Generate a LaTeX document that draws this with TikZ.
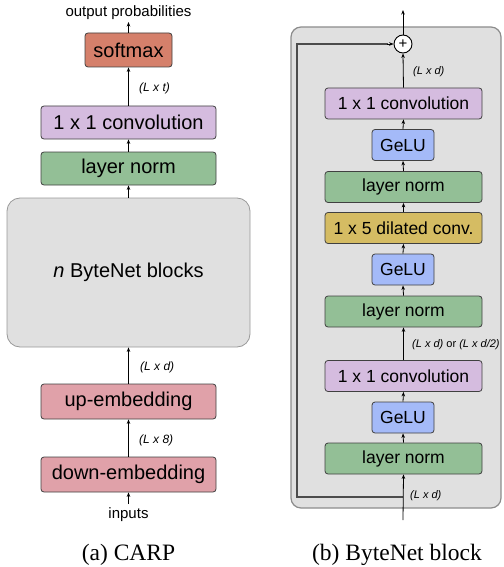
\documentclass[tikz,border=0pt]{standalone}
\usepackage{fontspec}
\setmainfont{Liberation Sans}
\newfontfamily\capfont{Liberation Serif}
\usetikzlibrary{arrows.meta}
\definecolor{salm}{HTML}{D5806B}
\definecolor{lav}{HTML}{D5BCDF}
\definecolor{grn}{HTML}{93BF96}
\definecolor{pnk}{HTML}{E0A1A9}
\definecolor{blu}{HTML}{A4BAF8}
\definecolor{mus}{HTML}{D5BC63}
\definecolor{bgg}{HTML}{E0E0E0}
\tikzset{
  blk/.style={draw=black!75, line width=0.8pt, rounded corners=3pt, minimum height=33pt, inner sep=0pt, font=\fontsize{20}{24}\selectfont},
  lbox/.style={blk, minimum width=175pt},
  rbox/.style={blk, minimum width=157pt, minimum height=31pt, font=\fontsize{17.5}{21}\selectfont},
  gbox/.style={blk, minimum width=62pt, minimum height=31pt, fill=blu, font=\fontsize{17.5}{21}\selectfont},
  arr/.style={-{Stealth[length=4.5pt,width=3.5pt]}, line width=0.8pt, black},
  lab/.style={anchor=west, inner sep=0pt, font=\fontsize{12}{14}\selectfont\itshape},
  rlab/.style={anchor=west, inner sep=0pt, font=\fontsize{11}{13}\selectfont\itshape},
  txt/.style={inner sep=0pt, font=\fontsize{15}{18}\selectfont},
  capt/.style={inner sep=0pt, font=\capfont\fontsize{23.5}{28}\selectfont}
}
\begin{document}
\begin{tikzpicture}[x=1pt,y=-1pt]
\useasboundingbox (0,0) rectangle (503,567);
% ---------- left panel ----------
\node[txt] (out) at (128.5,13) {output probabilities};
\node[lbox, minimum width=87pt, minimum height=34pt, fill=salm] (soft) at (128.5,50) {softmax};
\node[lbox, fill=lav] (conv) at (128.5,122.5) {1 x 1 convolution};
\node[lbox, fill=grn] (ln) at (128.5,168.5) {layer norm};
\node[draw=black!40, line width=0.8pt, rounded corners=13pt, fill=bgg, minimum width=243pt, minimum height=149pt, inner sep=0pt, font=\fontsize{20}{24}\selectfont] (bn) at (128.5,272.5) {\textit{n} ByteNet blocks};
\node[lbox, minimum height=35pt, fill=pnk] (up) at (128.5,401.5) {up-embedding};
\node[lbox, minimum height=35pt, fill=pnk] (down) at (128.5,474.5) {down-embedding};
\node[txt] (inp) at (128.5,515) {inputs};
\coordinate (outb) at (128.5,22);
\coordinate (inpt) at (128.5,504);
\draw[arr] (soft.north) -- (outb);
\draw[arr] (conv.north) -- (soft.south);
\draw[arr] (ln.north) -- (conv.south);
\draw[arr] (bn.north) -- (ln.south);
\draw[arr] (up.north) -- (bn.south);
\draw[arr] (down.north) -- (up.south);
\draw[arr] (inpt) -- (down.south);
\node[lab] (l1) at (139,88) {(L x t)};
\node[lab] (l2) at (140,367) {(L x d)};
\node[lab] (l3) at (139,440) {(L x 8)};
\node[capt] (ca) at (128.5,555) {(a) CARP};
% ---------- right panel ----------
\node[draw=black!45, line width=1.2pt, rounded corners=10pt, fill=bgg, minimum width=210pt, minimum height=481pt, inner sep=0pt] (outer) at (396,267.5) {};
\node[draw=black, line width=0.9pt, fill=white, circle, minimum size=18pt, inner sep=0pt, font=\fontsize{15}{18}\selectfont] (plus) at (403,44) {+};
\node[rbox, fill=lav] (rc1) at (403.5,103.5) {1 x 1 convolution};
\node[gbox] (rg1) at (403,145) {GeLU};
\node[rbox, fill=grn] (rl1) at (403.5,187) {layer norm};
\node[rbox, fill=mus] (rd) at (403.5,228) {1 x 5 dilated conv.};
\node[gbox] (rg2) at (403,269.5) {GeLU};
\node[rbox, fill=grn] (rl2) at (403.5,311.5) {layer norm};
\node[rbox, fill=lav] (rc2) at (403.5,376) {1 x 1 convolution};
\node[gbox] (rg3) at (403,417.5) {GeLU};
\node[rbox, fill=grn] (rl3) at (403.5,458.5) {layer norm};
\coordinate (rin) at (403,520);
\coordinate (rsk) at (403,497);
\coordinate (rsk1) at (297,497);
\coordinate (rsk2) at (297,44);
\coordinate (rtop) at (403,10);
\draw[line width=1.3pt, black!70] (rsk) -- (rsk1) -- (rsk2) -- ([xshift=-6pt]plus.west);
\draw[arr] ([xshift=-6.5pt]plus.west) -- (plus.west);
\draw[arr] (rin) -- (rl3.south);
\draw[arr] (rl3.north) -- (rg3.south);
\draw[arr] (rg3.north) -- (rc2.south);
\draw[arr] (rc2.north) -- (rl2.south);
\draw[arr] (rl2.north) -- (rg2.south);
\draw[arr] (rg2.north) -- (rd.south);
\draw[arr] (rd.north) -- (rl1.south);
\draw[arr] (rl1.north) -- (rg1.south);
\draw[arr] (rg1.north) -- (rc1.south);
\draw[arr] (rc1.north) -- (plus.south);
\draw[arr] (plus.north) -- (rtop);
\node[rlab] (r1) at (413,72) {(L x d)};
\node[rlab] (r2) at (412,345) {(L x d) \upshape or \itshape (L x d/2)};
\node[rlab] (r3) at (410,496) {(L x d)};
\node[capt] (cb) at (397,555) {(b) ByteNet block};
\end{tikzpicture}
\end{document}
